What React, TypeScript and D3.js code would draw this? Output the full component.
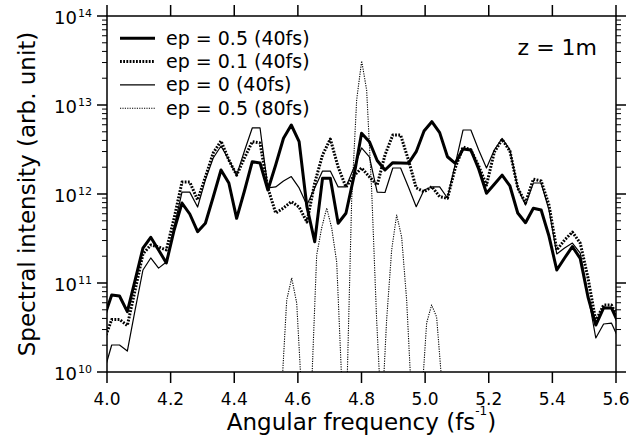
import React from "react";
import * as d3 from "d3";

// frequency grid of the 40fs runs (fs^-1)
const freq = [
  3.9902, 4.0148, 4.0393, 4.0639, 4.0884, 4.113, 4.1375, 4.1621, 4.1866, 4.2111,
  4.2357, 4.2602, 4.2848, 4.3093, 4.3339, 4.3584, 4.383, 4.4075, 4.432, 4.4566,
  4.4811, 4.5057, 4.5302, 4.5548, 4.5793, 4.6039, 4.6284, 4.6529, 4.6775, 4.702,
  4.7266, 4.7511, 4.7757, 4.8002, 4.8248, 4.8493, 4.8738, 4.8984, 4.9229, 4.9475,
  4.972, 4.9966, 5.0211, 5.0457, 5.0702, 5.0947, 5.1193, 5.1438, 5.1684, 5.1929,
  5.2175, 5.242, 5.2666, 5.2911, 5.3156, 5.3402, 5.3647, 5.3893, 5.4138, 5.4384,
  5.4629, 5.4875, 5.512, 5.5365, 5.5611, 5.5856, 5.6102,
];

const ep05_40 = [
  4.04e10, 7.33e10, 7.14e10, 4.76e10, 1.08e11, 2.47e11, 3.26e11, 2.35e11, 1.68e11, 3.94e11,
  7.92e11, 5.96e11, 3.77e11, 4.69e11, 9.25e11, 1.86e12, 1.33e12, 5.33e11, 1.08e12, 2.31e12,
  2.23e12, 1.11e12, 2.12e12, 4.23e12, 5.96e12, 3.87e12, 7.2e11, 2.91e11, 1.5e12, 1.5e12,
  4.69e11, 6.07e11, 1.55e12, 4.81e12, 3.87e12, 2.38e12, 1.86e12, 2.25e12, 2.23e12, 2.21e12,
  2.99e12, 5.1e12, 6.49e12, 4.89e12, 2.62e12, 2.21e12, 3.21e12, 3.12e12, 1.91e12, 1.02e12,
  1.29e12, 1.63e12, 1.23e12, 6.12e11, 4.76e11, 6.91e11, 6.61e11, 3.37e11, 1.4e11, 1.91e11,
  2.56e11, 1.89e11, 6.96e10, 3.37e10, 5.24e10, 5.24e10, 3.37e10,
];

const ep01_40 = [
  2.23e10, 3.89e10, 3.89e10, 3.33e10, 8.34e10, 2.12e11, 2.67e11, 2.54e11, 2.35e11, 5.37e11,
  1.36e12, 1.36e12, 8.57e11, 1.55e12, 2.89e12, 3.94e12, 2.41e12, 1.63e12, 2.54e12, 3.87e12,
  3.74e12, 1.17e12, 6.12e11, 6.96e11, 8.19e11, 7.14e11, 4.84e11, 1.33e12, 2.74e12, 4.15e12,
  2.01e12, 1.2e12, 1.59e12, 1.96e12, 1.56e12, 1.26e12, 2.74e12, 4.6e12, 4.6e12, 2.41e12,
  1.17e12, 1.06e12, 1.21e12, 9.33e11, 8.95e11, 1.96e12, 3.37e12, 3.12e12, 2.06e12, 1.26e12,
  2.96e12, 4.1e12, 3.04e12, 1.17e12, 7.92e11, 1.47e12, 1.4e12, 7.52e11, 2.35e11, 3.04e11,
  3.74e11, 2.81e11, 1.14e11, 3.74e10, 5.66e10, 5.66e10, 3.84e10,
];

const ep0_40 = [
  1.0e10, 2.01e10, 2.01e10, 1.72e10, 4.98e10, 1.4e11, 1.91e11, 1.47e11, 1.72e11, 4.26e11,
  1.05e12, 1.05e12, 7.14e11, 1.44e12, 2.54e12, 3.46e12, 2.41e12, 1.63e12, 3.04e12, 5.52e12,
  5.52e12, 1.17e12, 1.2e12, 1.4e12, 1.57e12, 1.17e12, 7.52e11, 1.17e12, 1.81e12, 1.81e12,
  1.2e12, 1.2e12, 1.96e12, 3.29e12, 2.61e12, 1.05e12, 1.04e12, 1.96e12, 1.96e12, 1.2e12,
  7.2e11, 1.11e12, 1.2e12, 1.2e12, 9.02e11, 2.17e12, 5.24e12, 5.24e12, 3.12e12, 1.96e12,
  3.12e12, 4.21e12, 3.12e12, 1.17e12, 7.52e11, 1.33e12, 1.33e12, 6.61e11, 2.12e11, 2.47e11,
  2.81e11, 2.17e11, 7.33e10, 2.41e10, 3.46e10, 3.55e10, 2.29e10,
];

// finer grid of the 80fs run
const freq80 = [
  4.5178, 4.5335, 4.5492, 4.5649, 4.5806, 4.5963, 4.612, 4.6277, 4.6434, 4.6591,
  4.6748, 4.6906, 4.7063, 4.722, 4.7377, 4.7534, 4.7691, 4.7848, 4.8005, 4.8162,
  4.8319, 4.8476, 4.8633, 4.879, 4.8948, 4.9105, 4.9262, 4.9419, 4.9576, 4.9733,
  4.989, 5.0047, 5.0204, 5.0361, 5.0518, 5.0675, 5.0832,
];

const ep05_80 = [
  5e8, 1e9, 6.28e9, 6.44e10, 1.14e11, 5.96e10, 5.52e9, 2.89e9, 7.14e9, 2.06e11,
  4.15e11, 6.96e11, 4.15e11, 1.72e11, 8.13e9, 4.84e9, 8.57e11, 1.14e13, 3.12e13, 1.47e13,
  1.11e12, 3.84e10, 2.89e9, 3.84e10, 2.35e11, 5.81e11, 3.29e11, 6.44e10, 4.84e9, 1.72e9,
  4.84e9, 3.55e10, 5.66e10, 4.15e10, 8.13e9, 2.89e9, 1e9,
];

const xTicks = [4.0, 4.2, 4.4, 4.6, 4.8, 5.0, 5.2, 5.4, 5.6];
const yExponents = [10, 11, 12, 13, 14];
const legendLabels = ["ep = 0.5 (40fs)", "ep = 0.1 (40fs)", "ep = 0 (40fs)", "ep = 0.5 (80fs)"];

const styles = [
  { width: 3, dash: "none" },
  { width: 3, dash: "1.8,1.4" },
  { width: 1.2, dash: "none" },
  { width: 1.1, dash: "1.2,1.2" },
];

export default function App() {
  const W = 629;
  const H = 438;
  const m = { left: 107, right: 13, top: 16, bottom: 66 };
  const x = d3.scaleLinear().domain([4.0, 5.6]).range([m.left, W - m.right]);
  const y = d3.scaleLog().domain([1e10, 1e14]).range([H - m.bottom, m.top]);
  const line = d3
    .line<[number, number]>()
    .x((d) => x(d[0]))
    .y((d) => y(d[1]));

  const series = [
    freq.map((f, i) => [f, ep05_40[i]] as [number, number]),
    freq.map((f, i) => [f, ep01_40[i]] as [number, number]),
    freq.map((f, i) => [f, ep0_40[i]] as [number, number]),
    freq80.map((f, i) => [f, ep05_80[i]] as [number, number]),
  ];

  const yAll = y.ticks();
  const yMinor = yAll.filter((v) => Math.abs(Math.log10(v) - Math.round(Math.log10(v))) > 1e-6);
  const x0 = m.left;
  const x1 = W - m.right;
  const y0 = H - m.bottom;
  const y1 = m.top;
  const font = "'DejaVu Sans', sans-serif";

  return (
    <svg
      width={W}
      height={H}
      style={{ position: "absolute", left: 0, top: 0, background: "#fff" }}
      fontFamily={font}
    >
      <defs>
        <clipPath id="plot">
          <rect x={x0} y={y1} width={x1 - x0} height={y0 - y1} />
        </clipPath>
      </defs>

      <g clipPath="url(#plot)" fill="none" stroke="#000">
        {series.map((s, i) => (
          <path
            key={i}
            d={line(s) || ""}
            strokeWidth={styles[i].width}
            strokeDasharray={styles[i].dash}
            strokeLinejoin="round"
          />
        ))}
      </g>

      {/* frame */}
      <rect x={x0} y={y1} width={x1 - x0} height={y0 - y1} fill="none" stroke="#000" strokeWidth={1.5} />

      {/* x ticks, bottom and top */}
      {xTicks.map((t) => (
        <g key={t}>
          <line x1={x(t)} x2={x(t)} y1={y0} y2={y0 + 11} stroke="#000" strokeWidth={1.5} />
          <line x1={x(t)} x2={x(t)} y1={y1} y2={y1 - 11} stroke="#000" strokeWidth={1.5} />
          <text x={x(t)} y={405} textAnchor="middle" fontSize={17}>
            {t.toFixed(1)}
          </text>
        </g>
      ))}

      {/* y ticks, left and right */}
      {yExponents.map((e) => {
        const py = y(Math.pow(10, e));
        return (
          <g key={e}>
            <line x1={x0} x2={x0 - 10} y1={py} y2={py} stroke="#000" strokeWidth={1.5} />
            <line x1={x1} x2={x1 + 10} y1={py} y2={py} stroke="#000" strokeWidth={1.5} />
            <text x={77} y={py + 8} textAnchor="end" fontSize={18}>
              10
            </text>
            <text x={78} y={py + 1} fontSize={11}>
              {e}
            </text>
          </g>
        );
      })}
      {yMinor.map((v) => (
        <g key={v}>
          <line x1={x0} x2={x0 - 5} y1={y(v)} y2={y(v)} stroke="#000" strokeWidth={1} />
          <line x1={x1} x2={x1 + 5} y1={y(v)} y2={y(v)} stroke="#000" strokeWidth={1} />
        </g>
      ))}

      {/* legend */}
      {legendLabels.map((lab, i) => {
        const ly = 38.3 + i * 23.3;
        return (
          <g key={lab}>
            <line
              x1={120}
              x2={155}
              y1={ly}
              y2={ly}
              stroke="#000"
              strokeWidth={styles[i].width}
              strokeDasharray={styles[i].dash}
            />
            <text x={166} y={ly + 6.5} fontSize={19}>
              {lab}
            </text>
          </g>
        );
      })}

      <text x={597} y={55} textAnchor="end" fontSize={22}>
        z = 1m
      </text>

      {/* axis titles */}
      <text x={(x0 + x1) / 2} y={430} textAnchor="middle" fontSize={23}>
        Angular frequency (fs
        <tspan dy={-15} fontSize={12}>
          -1
        </tspan>
        <tspan dy={15}>)</tspan>
      </text>
      <text
        transform={`translate(35,${(y0 + y1) / 2}) rotate(-90)`}
        textAnchor="middle"
        fontSize={23}
      >
        Spectral intensity (arb. unit)
      </text>
    </svg>
  );
}
